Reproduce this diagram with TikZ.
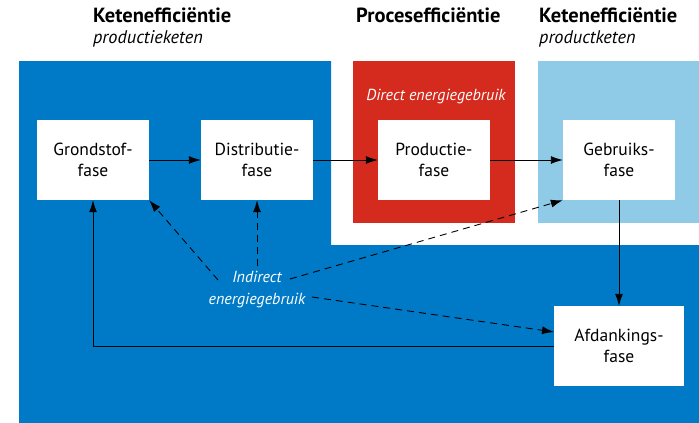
\documentclass[tikz,border=0pt]{standalone}
\usepackage{fontspec}
\setmainfont{PT Sans}
\usetikzlibrary{arrows.meta}
\definecolor{dblue}{RGB}{0,122,198}
\definecolor{rred}{RGB}{213,43,30}
\definecolor{lblue}{RGB}{143,202,231}
\begin{document}
\begin{tikzpicture}[x=1pt,y=-1pt,
  fase/.style={fill=white,minimum width=112pt,minimum height=80pt,inner sep=0pt,align=center,font=\fontsize{17.5}{21}\selectfont},
  title/.style={anchor=base west,inner sep=0pt,font=\fontsize{20.5}{21}\selectfont\bfseries},
  subtitle/.style={anchor=base west,inner sep=0pt,font=\fontsize{18.3}{21}\selectfont\itshape},
  flow/.style={line width=0.9pt,-{Latex[length=12pt,width=8pt]}},
  ind/.style={flow,dash pattern=on 7pt off 5pt}]
\useasboundingbox (0,0) rectangle (699,423);
% backgrounds
\fill[dblue] (19,61) -- (331,61) -- (331,245) -- (699,245) -- (699,423) -- (19,423) -- cycle;
\fill[rred] (353,61) rectangle (515,223);
\fill[lblue] (538,61) rectangle (699,223);
% titles
\node[title] (t1) at (93,22) {Ketenefficiëntie};
\node[subtitle] (s1) at (93,43) {productieketen};
\node[title] (t2) at (356,22) {Procesefficiëntie};
\node[title] (t3) at (539,22) {Ketenefficiëntie};
\node[subtitle] (s3) at (539,43) {productketen};
\node[anchor=base,inner sep=0pt,text=white,font=\fontsize{16}{18}\selectfont\itshape] (direct) at (436,100) {Direct energiegebruik};
% boxes
\node[fase] (g) at (93,160) {Grondstof-\\fase};
\node[fase] (d) at (257,160) {Distributie-\\fase};
\node[fase] (p) at (434,160) {Productie-\\fase};
\node[fase] (u) at (619,160) {Gebruiks-\\fase};
\node[fase,minimum width=130pt] (a) at (619,346) {Afdankings-\\fase};
% label
\node[text=white,align=center,inner sep=0pt,font=\fontsize{16}{22}\selectfont\itshape] (ind) at (257,290) {Indirect\\energiegebruik};
% solid arrows
\draw[flow] (g) -- (d);
\draw[flow] (d) -- (p);
\draw[flow] (p) -- (u);
\draw[flow] (u) -- (a);
\draw[flow] (a.west) -| (g.south);
% dashed
\coordinate (c1) at (218,280);
\coordinate (c2) at (257,266);
\coordinate (c3) at (290,279);
\coordinate (c4) at (312,297);
\coordinate (a4) at (554,332);
\draw[ind] (c1) -- (g.south east);
\draw[ind] (c2) -- (d.south);
\draw[ind] (c3) -- (u.south west);
\draw[ind] (c4) -- (a4);
\end{tikzpicture}
\end{document}
